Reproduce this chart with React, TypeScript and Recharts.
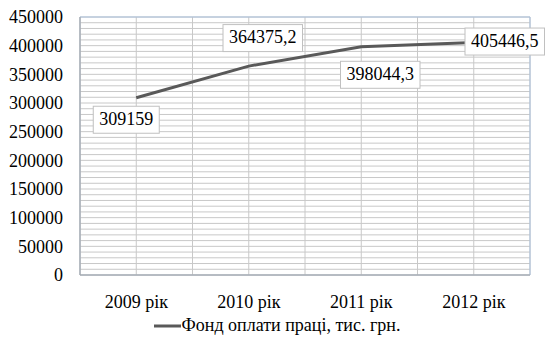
import {
  LineChart,
  Line,
  XAxis,
  YAxis,
  CartesianGrid,
  Legend,
  LabelList,
  ReferenceArea,
} from "recharts";

const years = ["2009 рік", "2010 рік", "2011 рік", "2012 рік"];
const payroll = [309159, 364375.2, 398044.3, 405446.5];
const yTicks = [0, 50000, 100000, 150000, 200000, 250000, 300000, 350000, 400000, 450000];
const seriesName = "Фонд оплати праці, тис. грн.";

const FONT = "Liberation Serif, Times New Roman, DejaVu Serif, serif";
const LINE_COLOR = "#595959";
const Y_MAX = 450000;

// minor horizontal gridlines every 10000
const minorY: number[] = [];
for (let v = 0; v <= Y_MAX; v += 10000) minorY.push(v);

// each category sits in the middle of a pair of grid columns
const data = years.map((year, i) => ({ x: 2 * i + 1, year, value: payroll[i] }));
const xTicks = [0, 1, 2, 3, 4, 5, 6, 7, 8];

// label box offsets (box centre relative to point)
const labelOffsets = [
  { dx: -10, dy: 22 },
  { dx: 14, dy: -28 },
  { dx: 19, dy: 28 },
  { dx: 31, dy: -1 },
];

const fmt = (v: number) => String(v).replace(".", ",");

const textWidth = (s: string) =>
  s.split("").reduce((w, ch) => w + (ch === "," ? 4.5 : 9), 0);

const DataLabel = (props: any) => {
  const { x, y, value, index } = props;
  const off = labelOffsets[index] || { dx: 0, dy: -20 };
  const text = fmt(value);
  const w = textWidth(text) + 12;
  const h = 27;
  const cx = x + off.dx;
  const cy = y + off.dy;
  return (
    <g>
      <rect
        x={cx - w / 2}
        y={cy - h / 2}
        width={w}
        height={h}
        fill="#ffffff"
        stroke="#c0c0c0"
        strokeWidth={1}
      />
      <text
        x={cx}
        y={cy + 1}
        textAnchor="middle"
        dominantBaseline="middle"
        style={{ fontFamily: FONT }}
        fontSize={18}
        fill="#000"
      >
        {text}
      </text>
    </g>
  );
};

const LegendContent = () => (
  <div
    style={{
      display: "flex",
      justifyContent: "center",
      alignItems: "center",
      fontFamily: FONT,
      fontSize: 18,
      color: "#000",
      paddingLeft: 24,
    }}
  >
    <svg width={27} height={10} style={{ marginRight: 1 }}>
      <line x1={0} y1={5} x2={27} y2={5} stroke={LINE_COLOR} strokeWidth={3} />
    </svg>
    <span>{seriesName}</span>
  </div>
);

export default function App() {
  return (
    <div
      style={{
        position: "absolute",
        left: 0,
        top: 0,
        background: "#fff",
        fontFamily: FONT,
      }}
    >
      <LineChart
        width={545}
        height={353}
        data={data}
        margin={{ top: 17, right: 15, left: 0, bottom: 8 }}
        style={{ fontFamily: FONT }}
      >
        <CartesianGrid
          stroke="#c8c8c8"
          strokeWidth={1}
          horizontalCoordinatesGenerator={({ offset }: any) =>
            minorY.map((v) => offset.top + offset.height * (1 - v / Y_MAX))
          }
        />
        <ReferenceArea
          x1={0}
          x2={8}
          y1={0}
          y2={Y_MAX}
          fill="none"
          stroke="#a9c0dc"
          strokeWidth={1}
          ifOverflow="visible"
        />
        <XAxis
          dataKey="x"
          type="number"
          domain={[0, 8]}
          ticks={xTicks}
          interval={0}
          tickFormatter={(v: number) => (v % 2 === 1 ? years[(v - 1) / 2] : "")}
          tickLine={false}
          axisLine={{ stroke: "#a6a6a6" }}
          tick={{ fontFamily: FONT, fontSize: 18, fill: "#000" }}
          tickMargin={14}
          height={40}
        />
        <YAxis
          type="number"
          domain={[0, Y_MAX]}
          ticks={yTicks}
          interval={0}
          width={80}
          tickLine={false}
          tickSize={0}
          tickMargin={17}
          axisLine={{ stroke: "#a6a6a6" }}
          tick={{ fontFamily: FONT, fontSize: 18, fill: "#000" }}
        />
        <Legend verticalAlign="bottom" height={30} content={<LegendContent />} />
        <Line
          dataKey="value"
          name={seriesName}
          stroke={LINE_COLOR}
          strokeWidth={3}
          dot={false}
          isAnimationActive={false}
        >
          <LabelList dataKey="value" content={<DataLabel />} />
        </Line>
      </LineChart>
    </div>
  );
}
